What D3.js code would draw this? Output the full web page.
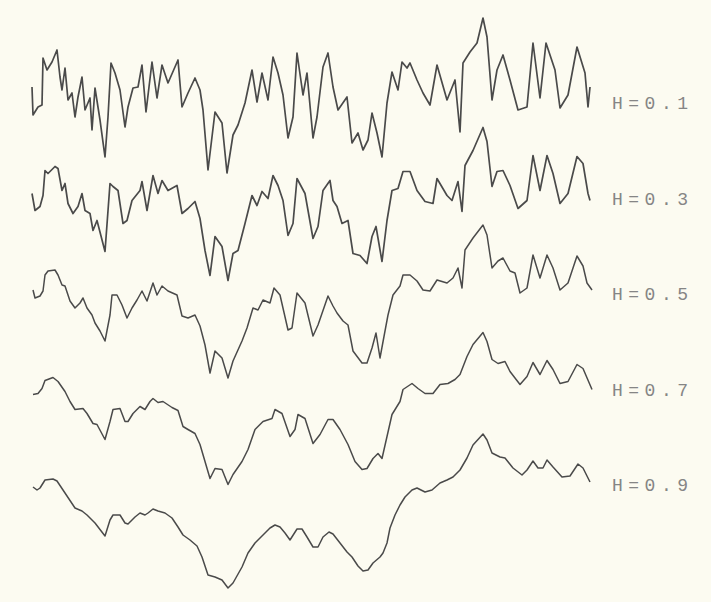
<!DOCTYPE html>
<html>
<head>
<meta charset="utf-8">
<script src="https://cdn.jsdelivr.net/npm/d3@7"></script>
<style>
  html, body { margin: 0; padding: 0; background: #fcfbf1; }
  svg { display: block; }
</style>
</head>
<body>
<div id="chart"></div>
<script>
// Hurst exponents, one trace each (top to bottom)
const hurst = ["0.1", "0.3", "0.5", "0.7", "0.9"];

// [time, deviation] pairs, deviation positive = up
const h01 = [[0,16],[1,-12],[6,-4],[10,-2],[11,45],[15,33],[20,41],[25,53],[28,26],[30,13],[33,35],[36,3],[40,10],[43,-14],[46,6],[50,26],[53,-7],[58,5],[60,-27],[63,15],[68,-17],[73,-54],[76,-14],[79,40],[83,30],[88,13],[93,-24],[96,-4],[101,15],[106,16],[110,38],[114,-9],[120,41],[125,5],[130,38],[136,20],[146,43],[150,-4],[156,10],[163,25],[168,13],[171,-7],[176,-67],[183,-9],[190,-20],[195,-70],[201,-32],[206,-22],[213,0],[220,33],[225,1],[230,30],[236,3],[241,46],[246,30],[251,8],[256,-35],[261,-14],[265,50],[271,8],[275,30],[281,-35],[285,-14],[291,36],[296,50],[301,16],[306,-7],[315,6],[320,-40],[326,-30],[331,-47],[336,-37],[340,-10],[345,-30],[350,-54],[355,0],[360,31],[366,13],[370,41],[375,35],[378,40],[385,23],[391,10],[398,-2],[405,38],[415,3],[423,23],[428,-29],[431,40],[438,51],[445,60],[451,85],[455,66],[460,3],[465,33],[471,48],[478,23],[486,-7],[495,-4],[501,60],[508,5],[514,60],[523,33],[528,-5],[536,8],[545,56],[553,30],[556,-4],[558,16]];

const h03 = [[0,5],[3,-12],[8,-8],[11,3],[13,28],[16,25],[23,32],[26,30],[30,8],[33,15],[36,-5],[41,-15],[46,-8],[50,5],[53,-12],[58,-15],[61,-32],[65,-22],[73,-53],[78,15],[81,12],[86,8],[91,-25],[95,-22],[100,-2],[108,8],[110,17],[115,-12],[121,23],[126,5],[130,18],[136,8],[145,13],[150,-15],[156,-10],[163,-3],[168,-20],[173,-52],[178,-77],[183,-38],[190,-48],[196,-82],[201,-55],[206,-52],[213,-25],[220,3],[225,-7],[230,7],[236,0],[241,23],[246,13],[251,-2],[256,-37],[261,-25],[265,20],[273,5],[281,-40],[286,-28],[291,8],[298,18],[301,-2],[305,-8],[310,-25],[316,-22],[321,-55],[328,-57],[335,-65],[340,-38],[344,-28],[350,-63],[355,-22],[360,8],[366,10],[371,27],[378,27],[385,8],[393,-3],[401,-5],[405,20],[415,3],[420,-2],[426,17],[430,-13],[433,33],[441,48],[451,71],[455,57],[460,12],[465,27],[471,28],[478,13],[486,-10],[495,-2],[501,43],[508,8],[515,43],[521,25],[528,-5],[536,5],[545,42],[551,35],[556,5],[558,-2]];

const h05 = [[1,4],[3,-4],[8,-2],[11,3],[13,19],[16,23],[23,24],[26,19],[30,9],[33,8],[38,-7],[43,-14],[48,-9],[51,-4],[55,-14],[60,-21],[63,-29],[68,-37],[73,-47],[78,-21],[80,-1],[85,-1],[90,-11],[95,-24],[100,-14],[105,-6],[110,3],[115,-7],[121,11],[125,-1],[130,8],[136,3],[145,-1],[150,-22],[156,-24],[163,-21],[168,-32],[173,-51],[178,-79],[183,-57],[190,-64],[196,-84],[201,-67],[210,-47],[215,-34],[221,-14],[226,-16],[231,-6],[238,-9],[242,6],[248,-1],[256,-36],[260,-34],[265,1],[273,-9],[281,-42],[286,-31],[296,-2],[301,-12],[305,-19],[311,-27],[316,-31],[321,-57],[330,-69],[335,-69],[340,-54],[344,-39],[348,-64],[353,-37],[356,-21],[361,-1],[368,8],[371,19],[378,19],[385,13],[391,4],[398,3],[405,14],[415,11],[421,16],[426,26],[430,6],[433,44],[441,56],[451,69],[455,59],[460,26],[466,33],[471,36],[478,23],[483,21],[488,1],[495,6],[501,39],[508,16],[515,39],[521,26],[528,4],[536,11],[545,38],[551,28],[555,11],[560,4]];

const h07 = [[1,-5],[6,-4],[10,1],[13,9],[21,12],[26,8],[33,-2],[38,-12],[43,-20],[51,-19],[55,-24],[61,-34],[65,-35],[73,-50],[78,-32],[81,-20],[88,-19],[93,-32],[96,-32],[101,-24],[108,-17],[113,-20],[118,-12],[121,-9],[126,-13],[131,-12],[140,-18],[146,-21],[151,-37],[156,-40],[163,-44],[168,-55],[173,-72],[178,-89],[183,-79],[190,-80],[196,-95],[201,-85],[210,-72],[216,-60],[223,-40],[231,-32],[240,-29],[243,-20],[250,-24],[258,-47],[263,-40],[266,-25],[273,-29],[281,-54],[288,-45],[296,-30],[301,-30],[308,-40],[316,-55],[323,-72],[330,-80],[335,-79],[341,-69],[346,-64],[350,-69],[355,-47],[360,-25],[368,-12],[371,0],[380,6],[386,1],[393,-4],[401,-4],[408,5],[416,6],[423,10],[428,15],[435,33],[441,45],[451,57],[455,48],[460,30],[466,26],[473,28],[478,18],[488,5],[495,13],[501,27],[508,15],[515,29],[521,20],[528,6],[536,8],[545,25],[551,21],[560,0]];

const h09 = [[1,-2],[5,-5],[8,-3],[13,5],[21,6],[25,4],[33,-8],[43,-23],[50,-26],[55,-30],[63,-38],[73,-51],[78,-35],[81,-30],[88,-30],[93,-38],[96,-39],[103,-32],[108,-28],[113,-30],[116,-28],[121,-24],[126,-26],[133,-28],[140,-33],[146,-42],[151,-50],[158,-55],[165,-61],[170,-72],[176,-90],[183,-92],[190,-95],[196,-103],[201,-98],[210,-82],[216,-68],[223,-58],[231,-50],[238,-43],[243,-40],[248,-42],[253,-48],[258,-55],[265,-44],[270,-44],[275,-52],[281,-62],[286,-62],[291,-52],[297,-47],[301,-49],[308,-58],[315,-67],[320,-72],[326,-81],[331,-86],[336,-85],[341,-78],[348,-72],[351,-68],[355,-58],[358,-43],[363,-30],[368,-20],[373,-12],[380,-5],[385,-3],[393,-7],[400,-5],[408,2],[415,5],[421,8],[428,15],[435,27],[441,40],[451,51],[455,45],[460,32],[468,28],[473,27],[481,17],[490,10],[495,15],[501,24],[506,17],[511,17],[515,25],[521,18],[530,8],[538,9],[546,21],[551,17],[558,3]];

const series = [h01, h03, h05, h07, h09];

const width = 711;
const height = 602;

const svg = d3.select("#chart")
    .append("svg")
    .attr("width", width)
    .attr("height", height);

svg.append("rect")
    .attr("width", width)
    .attr("height", height)
    .attr("fill", "#fcfbf1");

const x = d3.scaleLinear()
    .domain([0, 560])
    .range([32, 592]);

// one horizontal lane per trace
const lane = d3.scalePoint()
    .domain(hurst)
    .range([103, 485]);

const dev = d3.scaleLinear()
    .domain([-100, 100])
    .range([100, -100]);

hurst.forEach((h, i) => {
    const line = d3.line()
        .x(d => x(d[0]))
        .y(d => lane(h) + dev(d[1]));

    svg.append("path")
        .datum(series[i])
        .attr("d", line)
        .attr("fill", "none")
        .attr("stroke", "#4a4a4a")
        .attr("stroke-width", i < 2 ? 1.7 : 1.5)
        .attr("stroke-linejoin", "round");

    svg.append("text")
        .attr("x", 612)
        .attr("y", lane(h) + 6)
        .style("font-family", "'Liberation Mono', 'DejaVu Sans Mono', monospace")
        .style("font-size", "18px")
        .style("letter-spacing", "5.5px")
        .style("fill", "#858585")
        .text(`H=${h}`);
});
</script>
</body>
</html>
